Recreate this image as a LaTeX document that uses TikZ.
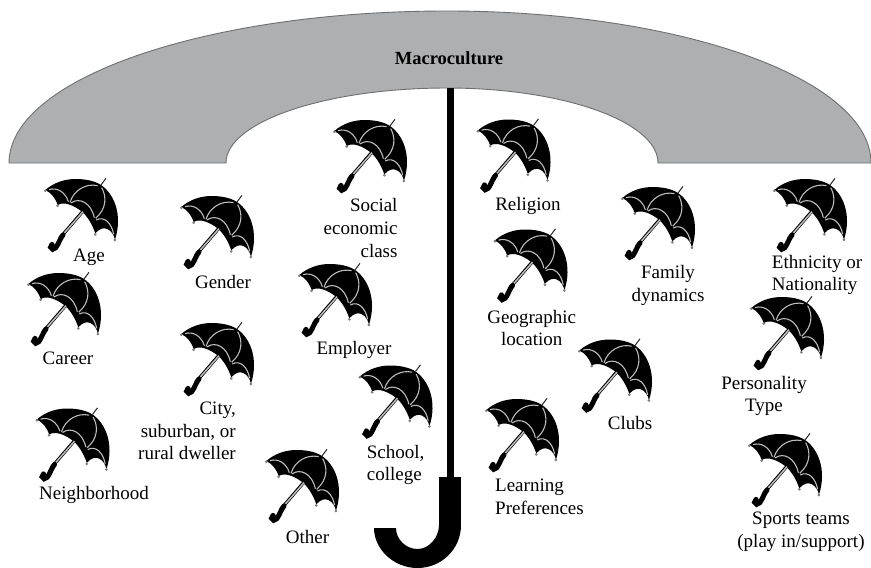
\documentclass[tikz,border=0pt]{standalone}
\usepackage{fontspec}
\setmainfont{Liberation Serif}
\definecolor{archgray}{HTML}{AEAFB1}
\definecolor{archedge}{HTML}{6E6F71}
\definecolor{ribgray}{HTML}{BDBDBD}
\tikzset{
  lbl/.style={align=center,inner sep=0pt,font=\fontsize{19}{22.7}\selectfont,text=black},
  umb/.pic={
    \begin{scope}[shift={(-42,-43)},scale=0.3333]
      \fill[black] (19,51) .. controls (45,28) and (78,18) .. (110,18)
        .. controls (140,18) and (168,24) .. (186,36)
        .. controls (225,62) and (252,125) .. (228,200)
        .. controls (222,172) and (195,150) .. (169,181)
        .. controls (160,155) and (145,128) .. (125,113)
        .. controls (105,98) and (75,84) .. (56,96)
        .. controls (52,80) and (36,58) .. (19,51) -- cycle;
      \draw[black!85,line width=1pt] (186,36) -- (201,16);
      \draw[black,line width=3.2pt] (134,112) -- (62,196);
      \draw[ribgray,line width=1.5pt] (132,116) -- (76,180);
      \draw[black,line width=5pt,line cap=round]
        (72,186) .. controls (60,200) and (54,230) .. (41,229)
        .. controls (33,228) and (33,218) .. (39,214);
      \draw[ribgray,line width=1.1pt]
        (30,50) .. controls (54,42) and (80,58) .. (88,86);
      \draw[ribgray,line width=1.1pt]
        (176,38) .. controls (140,30) and (104,52) .. (93,88);
      \draw[ribgray,line width=1.1pt]
        (96,90) .. controls (120,72) and (156,88) .. (166,134);
      \draw[ribgray,line width=1.1pt]
        (188,44) .. controls (204,72) and (202,108) .. (170,136);
      \draw[ribgray,line width=1.1pt]
        (172,141) .. controls (195,128) and (218,150) .. (224,184);
      \fill[gray] (19,53) circle (4.5) (56,98) circle (4.5) (169,184) circle (4.5) (228,201) circle (4.5);
    \end{scope}
  }
}
\begin{document}
\begin{tikzpicture}[x=1pt,y=-1pt]
\useasboundingbox (0,0) rectangle (871,568);
\fill[white] (0,0) rectangle (871,568);
% canopy
\filldraw[fill=archgray,draw=archedge,line width=0.9pt]
  (9,163) .. controls (9,79) and (205,11) .. (447,11)
  .. controls (681,11) and (871,79) .. (871,163)
  -- (658,163)
  .. controls (658,122) and (564,88) .. (447,88)
  .. controls (325,88) and (226,122) .. (226,163) -- cycle;
\node[inner sep=0pt,font=\fontsize{18.5}{18}\bfseries\selectfont] (macro) at (449,58) {Macroculture};
% stem and hook
\fill[black] (447,88) rectangle (454,478);
\fill[black] (439,477) rectangle (461,525);
\fill[black] (461,525) .. controls (461,549) and (441.5,568) .. (417.5,568)
  .. controls (393.5,568) and (374,549) .. (374,528) -- (396,528)
  .. controls (396,539) and (405.5,549) .. (417.5,549)
  .. controls (429.5,549) and (439,537) .. (439,525) -- cycle;
% umbrellas
\foreach \x/\y in {81/216,64/310,72.5/445.5,217/233,217/360,370/157,335/301,395.5/402.5,302/487,513.5/156.5,530.5/266.5,615/376.5,522/436,658/224,810/216,787/334,785/471}
  \pic at (\x,\y) {umb};
% labels
\node[lbl] (age) at (89,257) {Age};
\node[lbl] (career) at (68,358) {Career};
\node[lbl] (nbh) at (94,495) {Neighborhood};
\node[lbl] (gender) at (223,282) {Gender};
\node[lbl,align=right,anchor=east] (city) at (236,431) {City,\\suburban, or\\rural dweller};
\node[lbl,align=right,anchor=east] (social) at (397.7,228) {Social\\economic\\class};
\node[lbl] (employer) at (354,350) {Employer};
\node[lbl,align=left,anchor=west] (school) at (366.7,465) {School,\\college};
\node[lbl] (other) at (307.5,537) {Other};
\node[lbl] (religion) at (528,206) {Religion};
\node[lbl] (geo) at (531.7,328) {Geographic\\location};
\node[lbl] (clubs) at (630,423) {Clubs};
\node[lbl,align=left,anchor=west] (learning) at (495,497) {Learning\\Preferences};
\node[lbl] (family) at (668,285.5) {Family\\dynamics};
\node[lbl,align=left,anchor=west] (ethnicity) at (771.7,275) {Ethnicity or\\Nationality};
\node[lbl] (personality) at (764,396) {Personality\\Type};
\node[lbl] (sports) at (801,531.5) {Sports teams\\(play in/support)};
\end{tikzpicture}
\end{document}
